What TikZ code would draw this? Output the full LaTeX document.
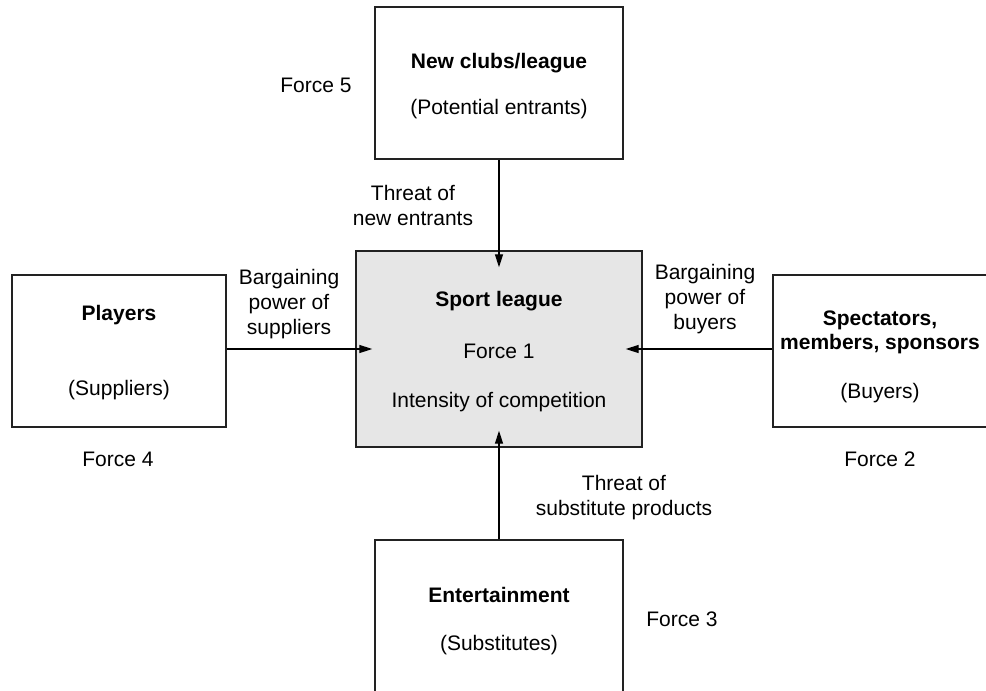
\documentclass[tikz,border=0pt]{standalone}
\usepackage{fontspec}
\setmainfont{Liberation Sans}
\usetikzlibrary{arrows.meta}
\definecolor{corefill}{HTML}{E6E6E6}
\definecolor{inkgray}{HTML}{222222}
\tikzset{
  forcebox/.style={draw=inkgray, line width=1.4pt, fill=white, inner sep=0pt},
  corebox/.style={forcebox, fill=corefill},
  txt/.style={inner sep=0pt, align=center, text=black,
    font=\fontsize{21}{25}\selectfont},
  btxt/.style={txt, font=\fontsize{21}{24}\selectfont\bfseries},
  pull/.style={draw=black, line width=1.3pt,
    -{Triangle[length=13pt,width=8pt]}, shorten >=-17pt}
}
\begin{document}
\begin{tikzpicture}[x=1pt,y=-1pt]
\useasboundingbox (0,0) rectangle (986,691);

% boxes for the five forces
\node[corebox, minimum width=286pt, minimum height=196pt] (league) at (499,349) {};
\node[forcebox, minimum width=248pt, minimum height=152pt] (entrants) at (499,83) {};
\node[forcebox, minimum width=214pt, minimum height=152pt] (players) at (119,351) {};
\node[forcebox, minimum width=214pt, minimum height=152pt] (buyers) at (880,351) {};
\node[forcebox, minimum width=248pt, minimum height=160pt] (subst) at (499,620) {};

% level of the horizontal connectors
\coordinate (lvlL) at (players.east |- league.center);
\coordinate (lvlR) at (buyers.west |- league.center);

% connectors pointing into the sport league
\draw[pull] (entrants.south) -- (league.north);
\draw[pull] (subst.north) -- (league.south);
\draw[pull] (lvlL) -- (league.west);
\draw[pull] (lvlR) -- (league.east);

% texts inside the boxes
\node[btxt] (tEntr) at (499,63) {New clubs/league};
\node[txt] (tEntrSub) at (499,109) {(Potential entrants)};
\node[btxt] (tLeague) at (499,301) {Sport league};
\node[txt] (tForce1) at (499,351) {Force 1};
\node[txt] (tIntens) at (499,402) {Intensity of competition};
\node[btxt] (tPlayers) at (119,315) {Players};
\node[txt] (tSupp) at (119,390) {(Suppliers)};
\node[btxt] (tSpect) at (880,332) {Spectators,\\members, sponsors};
\node[txt] (tBuy) at (880,393) {(Buyers)};
\node[btxt] (tEnt) at (499,595) {Entertainment};
\node[txt] (tSubs) at (499,645) {(Substitutes)};

% force numbers
\node[txt] (f5) at (316,85) {Force 5};
\node[txt] (f4) at (118,459) {Force 4};
\node[txt] (f2) at (880,459) {Force 2};
\node[txt] (f3) at (682,619) {Force 3};

% connector labels
\node[txt] (lEntr) at (413,205) {Threat of\\new entrants};
\node[txt] (lSupp) at (289,304) {Bargaining\\power of\\suppliers};
\node[txt] (lBuy) at (705,299) {Bargaining\\power of\\buyers};
\node[txt] (lSubs) at (624,498) {Threat of\\substitute products};
\end{tikzpicture}
\end{document}
